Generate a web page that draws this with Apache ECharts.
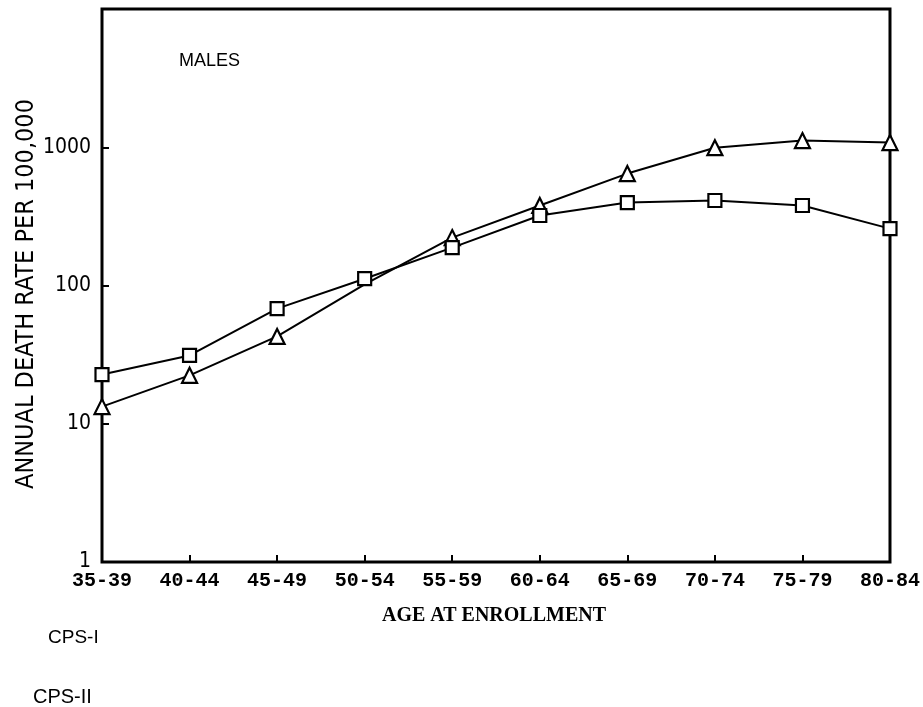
<!DOCTYPE html>
<html>
<head>
<meta charset="utf-8">
<script src="https://cdn.jsdelivr.net/npm/echarts@6/dist/echarts.min.js"></script>
<style>
html,body{margin:0;padding:0;background:#fff;}
#chart{width:923px;height:707px;}
</style>
</head>
<body>
<div id="chart"></div>
<script>
var categories = ['35-39','40-44','45-49','50-54','55-59','60-64','65-69','70-74','75-79','80-84'];
var cps1Squares = [22.7, 31.2, 68, 112, 188, 321, 398, 412, 379, 258];
var cps2Triangles = [13.3, 22.4, 42.8, 102, 222, 379, 645, 993, 1117, 1081];
var yTickLabels = ['1', '10', '100', '1000'];
var hiddenTriangleIndex = 3;

var chart = echarts.init(document.getElementById('chart'), null, {renderer: 'canvas'});
var condensed = '"DejaVu Sans Condensed", "DejaVu Sans", sans-serif';

var triData = cps2Triangles.map(function (v, i) {
  return i === hiddenTriangleIndex ? {value: v, symbol: 'none'} : v;
});

var option = {
  backgroundColor: '#fff',
  animation: false,
  grid: {
    left: 102, right: 31, top: 9, bottom: 145,
    show: true, borderColor: '#000', borderWidth: 3, backgroundColor: 'transparent'
  },
  xAxis: {
    type: 'category',
    data: categories,
    boundaryGap: false,
    axisLine: {show: true, lineStyle: {color: '#000', width: 2}},
    axisTick: {show: true, inside: true, length: 7, lineStyle: {color: '#000', width: 2}},
    axisLabel: {
      color: '#000', fontFamily: '"Liberation Mono", "DejaVu Sans Mono", monospace',
      fontWeight: 'bold', fontSize: 20, margin: 9, showMinLabel: true, showMaxLabel: true, interval: 0
    },
    splitLine: {show: false}
  },
  yAxis: {
    type: 'log',
    logBase: 10,
    min: 1,
    max: 10000,
    axisLine: {show: true, lineStyle: {color: '#000', width: 2}},
    axisTick: {show: true, inside: true, length: 7, lineStyle: {color: '#000', width: 2}},
    axisLabel: {
      color: '#000', fontFamily: condensed, fontSize: 21, margin: 11,
      formatter: function (v) {
        var s = String(Math.round(v));
        return yTickLabels.indexOf(s) >= 0 ? s : '';
      }
    },
    splitLine: {show: false},
    minorTick: {show: false}
  },
  graphic: [
    {type: 'text', x: 26, y: 294, rotation: Math.PI / 2,
      style: {text: 'ANNUAL DEATH RATE PER 100,000', fill: '#000', font: '25px ' + condensed,
        textAlign: 'center', textVerticalAlign: 'middle'}},
    {type: 'text', x: 179, y: 61,
      style: {text: 'MALES', fill: '#000', font: '18px "Liberation Sans", Arial, sans-serif',
        textAlign: 'left', textVerticalAlign: 'middle'}},
    {type: 'text', x: 494, y: 616,
      style: {text: 'AGE AT ENROLLMENT', fill: '#000', font: 'bold 20px "Liberation Serif", "Times New Roman", serif',
        textAlign: 'center', textVerticalAlign: 'middle'}},
    {type: 'text', x: 48, y: 638,
      style: {text: 'CPS-I', fill: '#000', font: '19px "Liberation Sans", Arial, sans-serif',
        textAlign: 'left', textVerticalAlign: 'middle'}},
    {type: 'text', x: 33, y: 697,
      style: {text: 'CPS-II', fill: '#000', font: '20px "Liberation Sans", Arial, sans-serif',
        textAlign: 'left', textVerticalAlign: 'middle'}}
  ],
  series: [
    {
      name: 'CPS-I', type: 'line', data: cps1Squares,
      symbol: 'rect', symbolSize: 13, showAllSymbol: true,
      lineStyle: {color: '#000', width: 2},
      itemStyle: {color: '#fff', borderColor: '#000', borderWidth: 2.2},
      z: 3
    },
    {
      name: 'CPS-II', type: 'line', data: triData,
      symbol: 'triangle', symbolSize: 15, showAllSymbol: true,
      lineStyle: {color: '#000', width: 2},
      itemStyle: {color: '#fff', borderColor: '#000', borderWidth: 2.2},
      z: 2
    }
  ]
};
chart.setOption(option);
</script>
</body>
</html>
